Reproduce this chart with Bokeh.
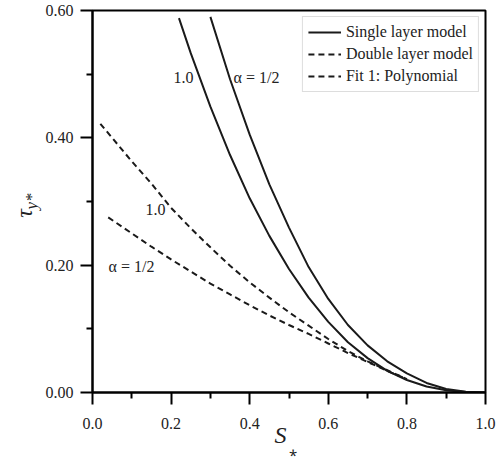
from bokeh.plotting import figure
from bokeh.models import Range1d, Label, Legend, LegendItem, FixedTicker, LinearAxis
from bokeh.embed import file_html
from bokeh.resources import INLINE

# Single layer model (solid)
s_single_a1 = [0.22, 0.25, 0.30, 0.35, 0.40, 0.45, 0.50, 0.55, 0.60, 0.65, 0.70, 0.75, 0.80, 0.85, 0.90, 0.95, 1.00]
t_single_a1 = [0.588, 0.533, 0.449, 0.373, 0.305, 0.246, 0.194, 0.149, 0.111, 0.079, 0.054, 0.034, 0.0196, 0.0095, 0.0035, 0.0006, 0.0]

s_single_a05 = [0.30, 0.35, 0.40, 0.45, 0.50, 0.55, 0.60, 0.65, 0.70, 0.75, 0.80, 0.85, 0.90, 0.95, 1.00]
t_single_a05 = [0.590, 0.492, 0.405, 0.327, 0.259, 0.197, 0.147, 0.106, 0.074, 0.049, 0.030, 0.0150, 0.0055, 0.0010, 0.0]

# Double layer model (dashed)
s_double_a1 = [0.02, 0.05, 0.10, 0.15, 0.20, 0.25, 0.30, 0.35, 0.40, 0.45, 0.50, 0.55, 0.60, 0.65, 0.70, 0.75, 0.80]
t_double_a1 = [0.422, 0.400, 0.363, 0.328, 0.290, 0.258, 0.228, 0.199, 0.173, 0.149, 0.126, 0.105, 0.084, 0.065, 0.049, 0.035, 0.021]

s_double_a05 = [0.04, 0.10, 0.15, 0.20, 0.25, 0.30, 0.35, 0.40, 0.45, 0.50, 0.55, 0.60, 0.65, 0.70, 0.75, 0.80]
t_double_a05 = [0.275, 0.250, 0.229, 0.209, 0.190, 0.171, 0.154, 0.137, 0.121, 0.106, 0.092, 0.077, 0.062, 0.048, 0.034, 0.021]

x_ticks = [0.0, 0.2, 0.4, 0.6, 0.8, 1.0]
y_ticks = [0.0, 0.2, 0.4, 0.6]
x_minor = [0.1, 0.3, 0.5, 0.7, 0.9]
y_minor = [0.1, 0.3, 0.5]

FONT = "Liberation Serif"
INK = "#1a1a1a"
TXT = "#222222"

p = figure(width=500, height=459, output_backend="svg", toolbar_location=None,
           x_range=Range1d(0, 1), y_range=Range1d(0, 0.6),
           min_border_left=92, min_border_right=15, min_border_top=10, min_border_bottom=67)
p.xgrid.visible = False
p.ygrid.visible = False
p.outline_line_color = "black"
p.outline_line_width = 2
p.background_fill_color = "white"
p.border_fill_color = "white"

p.xaxis.ticker = FixedTicker(ticks=x_ticks, minor_ticks=x_minor)
p.yaxis.ticker = FixedTicker(ticks=y_ticks, minor_ticks=y_minor)
p.xaxis.major_label_overrides = {v: f"{v:.1f}" for v in x_ticks}
p.yaxis.major_label_overrides = {v: f"{v:.2f}" for v in y_ticks}
for ax in (p.xaxis, p.yaxis):
    ax.axis_line_width = 2
    ax.major_tick_line_width = 2
    ax.minor_tick_line_width = 2
    ax.major_tick_in = 0
    ax.minor_tick_in = 0
    ax.major_tick_out = 12
    ax.minor_tick_out = 6
    ax.major_label_text_font = FONT
    ax.major_label_text_font_size = "16px"
    ax.major_label_text_color = TXT
    ax.axis_label_text_font = FONT
    ax.axis_label_text_font_style = "italic"
    ax.axis_label_text_color = TXT
p.xaxis.major_label_standoff = 13
p.yaxis.major_label_standoff = 7

# x title: S with subscript asterisk
p.xaxis.axis_label = "S\u2002\u2009"
p.xaxis.axis_label_text_font_size = "24px"
p.xaxis.axis_label_standoff = -10
# y title: tau with subscript y*
p.yaxis.axis_label = "y*"
p.yaxis.axis_label_text_font_size = "17px"
p.yaxis.axis_label_standoff = 2


def title_axis(text, size, standoff, style, side):
    ax = LinearAxis(ticker=FixedTicker(ticks=[]), axis_label=text,
                    axis_line_color=None, major_tick_line_color=None, minor_tick_line_color=None,
                    major_tick_out=0, minor_tick_out=0, major_tick_in=0, minor_tick_in=0,
                    major_label_standoff=0, axis_label_standoff=standoff,
                    axis_label_text_font=FONT, axis_label_text_font_size=size,
                    axis_label_text_font_style=style, axis_label_text_color=TXT)
    p.add_layout(ax, side)


title_axis("\u2002\u204e", "15px", -11, "normal", "below")
title_axis("τ\u2003", "24px", -18, "italic", "left")

lw = 2
r1 = p.line(s_single_a1, t_single_a1, line_color=INK, line_width=lw)
r2 = p.line(s_single_a05, t_single_a05, line_color=INK, line_width=lw)
r3 = p.line(s_double_a1, t_double_a1, line_color=INK, line_width=lw, line_dash="6 4")
r4 = p.line(s_double_a05, t_double_a05, line_color=INK, line_width=lw, line_dash="6 4")

legend = Legend(items=[
    LegendItem(label="Single layer model", renderers=[r1]),
    LegendItem(label="Double layer model", renderers=[r3]),
    LegendItem(label="Fit 1: Polynomial", renderers=[r4]),
], location="top_right")
legend.margin = 6
legend.padding = 5
legend.spacing = 2
legend.label_height = 20
legend.glyph_height = 20
legend.glyph_width = 33
legend.label_standoff = 5
legend.label_text_font = FONT
legend.label_text_font_size = "16px"
legend.label_text_color = TXT
legend.border_line_color = "#bbbbbb"
legend.border_line_width = 1
p.add_layout(legend)


def lab(x, y, text):
    p.add_layout(Label(x=x, y=y, text=text, text_font=FONT, text_font_size="16px",
                       text_color=TXT, text_align="left", text_baseline="middle"))


# curve annotations
lab(0.206, 0.494, "1.0")
lab(0.359, 0.495, "α = 1/2")
lab(0.135, 0.287, "1.0")
lab(0.041, 0.198, "α = 1/2")

open("out.html", "w").write(file_html(p, INLINE))
